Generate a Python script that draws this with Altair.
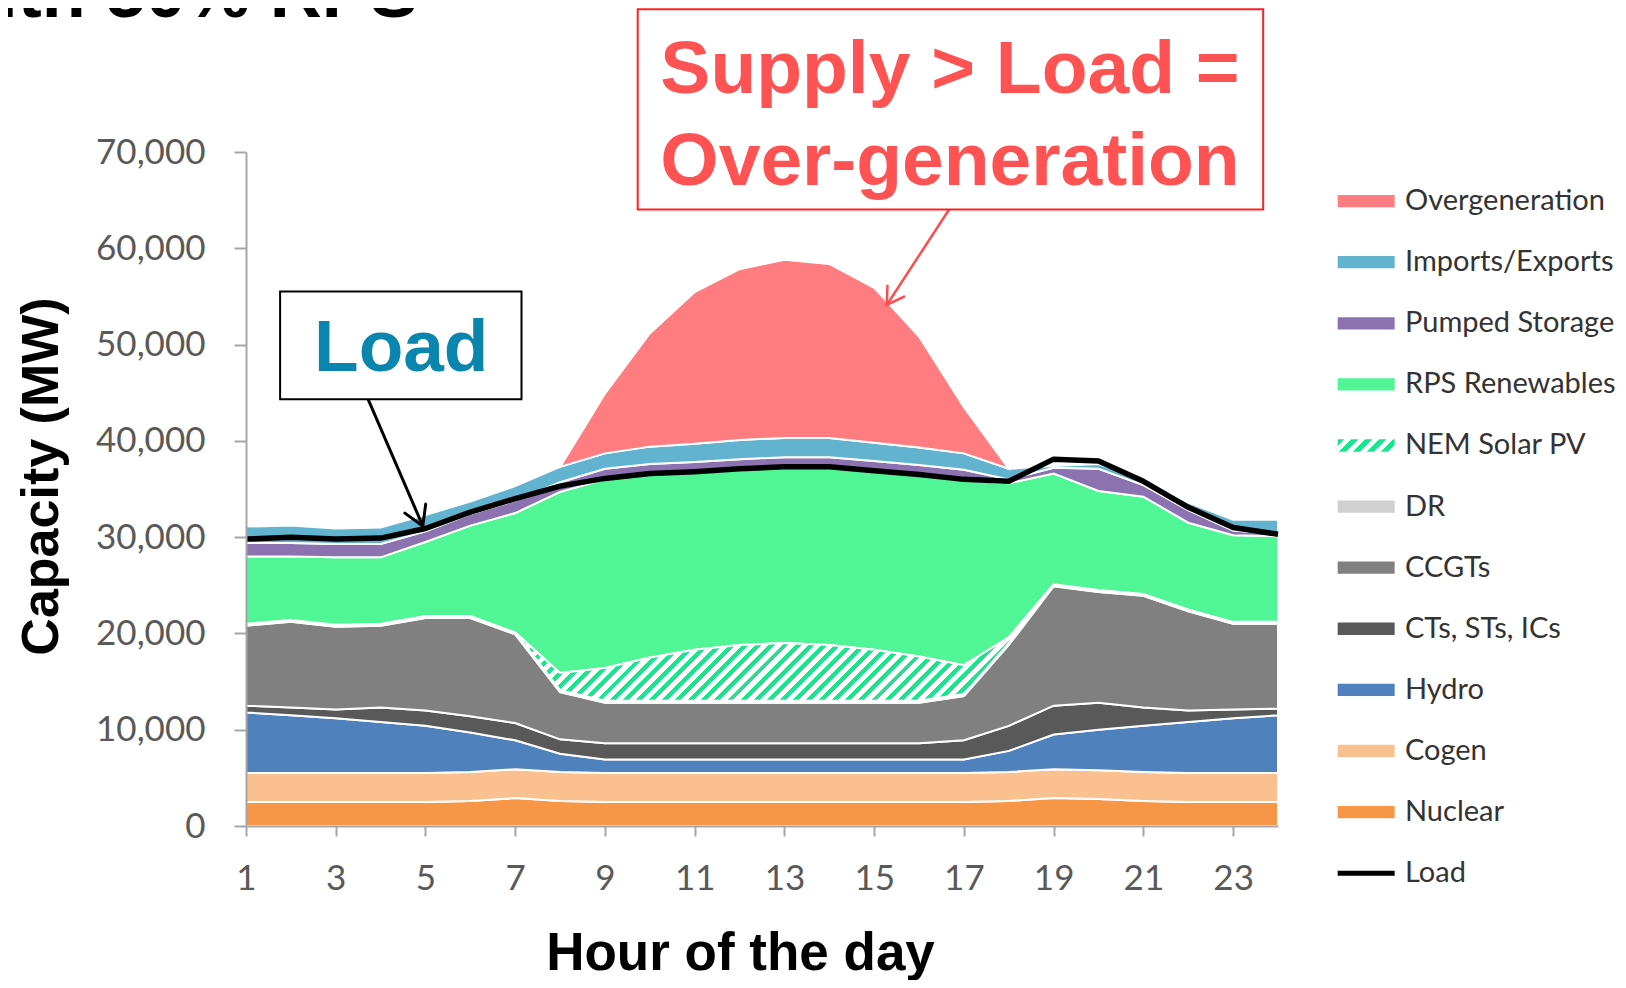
import math
import altair as alt
import pandas as pd

# ---------------- data (MW, each layer's own contribution) ----------------
hours = list(range(1, 25))
nuclear = [2500, 2500, 2500, 2500, 2500, 2600, 2900, 2600, 2500, 2500, 2500, 2500,
           2500, 2500, 2500, 2500, 2500, 2600, 2900, 2800, 2600, 2500, 2500, 2500]
cogen = [3000] * 24
hydro = [6300, 6000, 5700, 5300, 4900, 4100, 3000, 1900, 1400, 1400, 1400, 1400,
         1400, 1400, 1400, 1400, 1400, 2200, 3600, 4200, 4800, 5300, 5700, 6000]
cts = [700, 800, 900, 1500, 1600, 1700, 1800, 1500, 1700, 1700, 1700, 1700,
       1700, 1700, 1700, 1700, 2000, 2600, 3000, 2800, 1900, 1200, 900, 700]
ccgts = [8300, 8900, 8600, 8500, 9600, 10200, 9200, 4900, 4200, 4200, 4200, 4200,
         4200, 4200, 4200, 4200, 4600, 8400, 12400, 11500, 11600, 10300, 8900, 8800]
dr = [200] * 24
nem = [0, 0, 0, 0, 0, 0, 0, 1800, 3400, 4500, 5300, 5800,
       6000, 5800, 5300, 4600, 3000, 600, 0, 0, 0, 0, 0, 0]
rps = [7000, 6600, 7000, 6900, 7700, 9400, 12400, 18800, 19600, 19000, 18400, 18200,
       18200, 18400, 18500, 18800, 19200, 16000, 11500, 10300, 10100, 9000, 9000, 8900]
pumped = [1400, 1400, 1400, 1400, 1100, 1200, 1300, 1000, 1100, 1100, 1100, 1100,
          1100, 1100, 1100, 1100, 1100, 400, 600, 2300, 1200, 1300, 500, 200]
imports = [1700, 1800, 1600, 1700, 1700, 1300, 1500, 1600, 1600, 1800, 1900, 2000,
           2000, 2000, 1900, 1800, 1700, 1100, 200, 500, 600, 800, 1100, 1500]
overgen = [0, 0, 0, 0, 0, 0, 0, 0, 6200, 11750, 15760, 17730,
           18500, 18070, 16090, 11530, 4800, 0, 0, 0, 0, 0, 0, 0]
load = [29800, 30000, 29800, 29900, 30900, 32600, 34000, 35300, 36100, 36600, 36800, 37100,
        37300, 37300, 36900, 36500, 36000, 35800, 38100, 37900, 35800, 33100, 31000, 30300]

stack_names = ["Nuclear", "Cogen", "Hydro", "CTs, STs, ICs", "CCGTs", "DR", "NEM Solar PV",
               "RPS Renewables", "Pumped Storage", "Imports/Exports", "Overgeneration"]
stack_values = [nuclear, cogen, hydro, cts, ccgts, dr, nem, rps, pumped, imports, overgen]
stack_spans = {"NEM Solar PV": (7, 19), "Overgeneration": (8, 18)}

legend_names = ["Overgeneration", "Imports/Exports", "Pumped Storage", "RPS Renewables",
                "NEM Solar PV", "DR", "CCGTs", "CTs, STs, ICs", "Hydro", "Cogen", "Nuclear", "Load"]

colors = {"Nuclear": "#f79646", "Cogen": "#fac090", "Hydro": "#4f81bd",
          "CTs, STs, ICs": "#595959", "CCGTs": "#808080", "DR": "#d0d0d0",
          "NEM Solar PV": "#ffffff", "RPS Renewables": "#50f595",
          "Pumped Storage": "#8c72b0", "Imports/Exports": "#62b3cf",
          "Overgeneration": "#ff7c80"}
HATCH_GREEN = "#19e68c"

# ---------------- layout ----------------
W, H = 1032, 674
Y_MAX = 70000
PXH = W / 23.0          # px per hour
PXV = H / Y_MAX         # px per MW
LABEL_FONT = "Lato, Liberation Sans, sans-serif"
BOLD = "Liberation Sans, Arial, sans-serif"

# ---------------- build stacked table ----------------
rows = []
base = [0] * 24
for name, vals in zip(stack_names, stack_values):
    lo, hi = stack_spans.get(name, (1, 24))
    for i, h in enumerate(hours):
        if lo <= h <= hi:
            rows.append({"series": name, "hour": h, "y0": base[i], "y1": base[i] + vals[i]})
        base[i] += vals[i]
stack_df = pd.DataFrame(rows)
solid_df = stack_df[stack_df.series != "NEM Solar PV"]
nem_df = stack_df[stack_df.series == "NEM Solar PV"]
load_df = pd.DataFrame({"hour": hours, "load": load})

x_scale = alt.Scale(domain=[1, 24], nice=False, zero=False)
y_scale = alt.Scale(domain=[0, Y_MAX], nice=False)
x_axis = alt.Axis(values=list(range(1, 24, 2)), title="Hour of the day", format="d",
                  titleFont=BOLD, titleFontSize=53, titleFontWeight="bold", titleColor="#000000",
                  titleX=494, titleY=143, titleBaseline="alphabetic", titleAlign="center",
                  labelFont=LABEL_FONT, labelFontSize=35, labelColor="#595959", labelPadding=25,
                  labelFlush=False, labelOverlap=False,
                  tickSize=10, tickColor="#a6a6a6", tickWidth=2,
                  domainColor="#a6a6a6", domainWidth=2, grid=False, zindex=1)
y_axis = alt.Axis(values=list(range(0, 70001, 10000)), format=",.0f", title="Capacity (MW)",
                  titleFont=BOLD, titleFontSize=52, titleFontWeight="bold", titleColor="#000000",
                  titleX=-189, titleY=324, titleAngle=270, titleBaseline="alphabetic",
                  titleAlign="center",
                  labelFont=LABEL_FONT, labelFontSize=35, labelColor="#595959", labelPadding=29,
                  labelFlush=False, labelOverlap=False,
                  tickSize=12, tickColor="#a6a6a6", tickWidth=2,
                  domainColor="#a6a6a6", domainWidth=2, grid=False, zindex=1)


def X(f):
    return alt.X(f, type="quantitative", scale=x_scale, axis=x_axis)


def Y(f):
    return alt.Y(f, type="quantitative", scale=y_scale, axis=y_axis)


color_scale = alt.Scale(domain=list(colors.keys()), range=list(colors.values()))


def stripes(w, h, period=13.0, frac=0.45, c1=HATCH_GREEN, c2="#ffffff"):
    n = max(1, int(round((w + h) / period)))
    stops = []
    for i in range(n):
        a, b, c = i / n, (i + frac) / n, (i + 1) / n
        stops += [alt.GradientStop(color=c1, offset=a), alt.GradientStop(color=c1, offset=b),
                  alt.GradientStop(color=c2, offset=b), alt.GradientStop(color=c2, offset=c)]
    k = (w + h) / (w * w + h * h)
    return alt.LinearGradient(gradient="linear", stops=stops, x1=0, y1=0, x2=k * w, y2=k * h)


# ---------------- stacked areas ----------------
areas = alt.Chart(solid_df).mark_area(stroke="white", strokeWidth=2, interpolate="linear").encode(
    x=X("hour"), y=Y("y1"), y2="y0",
    color=alt.Color("series:N", scale=color_scale, legend=None),
)

nem_w = (nem_df.hour.max() - nem_df.hour.min()) * PXH
nem_h = (max(nem_df.y1.max(), nem_df.y0.max()) - min(nem_df.y0.min(), nem_df.y1.min())) * PXV
nem_area = alt.Chart(nem_df).mark_area(
    fill=stripes(nem_w, nem_h), stroke="white", strokeWidth=2, interpolate="linear"
).encode(x=X("hour"), y=Y("y1"), y2="y0")

load_line = alt.Chart(load_df).mark_line(color="black", strokeWidth=5.5, strokeJoin="round").encode(
    x=X("hour"), y=Y("load"))

# ---------------- custom legend ----------------
LEG_TOP, LEG_STEP, SW_HALF = 64900, 6345, 640
SW_X0, SW_X1, LBL_X = 25.33, 26.60, 26.83
leg_df = pd.DataFrame({"series": legend_names,
                       "ym": [LEG_TOP - i * LEG_STEP for i in range(len(legend_names))]})
leg_df["ya"] = leg_df.ym - SW_HALF
leg_df["yb"] = leg_df.ym + SW_HALF
leg_df["xa"] = SW_X0
leg_df["xb"] = SW_X1
leg_df["xl"] = LBL_X

solid_leg = leg_df[~leg_df.series.isin(["NEM Solar PV", "Load"])]
legend_rects = alt.Chart(solid_leg).mark_rect().encode(
    x=X("xa"), x2="xb", y=Y("ya"), y2="yb",
    color=alt.Color("series:N", scale=color_scale, legend=None))
nem_leg = leg_df[leg_df.series == "NEM Solar PV"]
legend_nem = alt.Chart(nem_leg).mark_rect(
    fill=stripes((SW_X1 - SW_X0) * PXH, 2 * SW_HALF * PXV, period=13.0, frac=0.5)
).encode(x=X("xa"), x2="xb", y=Y("ya"), y2="yb")
load_leg = leg_df[leg_df.series == "Load"]
legend_load = alt.Chart(load_leg).mark_rule(color="black", strokeWidth=5).encode(
    x=X("xa"), x2="xb", y=Y("ym"))
legend_text = alt.Chart(leg_df).mark_text(
    align="left", baseline="middle", font=LABEL_FONT, fontSize=29, color="#333333"
).encode(x=X("xl"), y=Y("ym"), text="series:N")

# ---------------- annotations ----------------
ARROW = "M-1,-0.6L0,0L-1,0.6"


def arrow_angle(x0, y0, x1, y1):
    dx = (x1 - x0) * PXH
    dy = -(y1 - y0) * PXV
    return math.degrees(math.atan2(dy, dx)) % 360


load_box_df = pd.DataFrame({"xa": [1.76], "xb": [7.14], "ya": [44330], "yb": [55520]})
load_box = alt.Chart(load_box_df).mark_rect(fill="white", stroke="black", strokeWidth=2).encode(
    x=X("xa"), x2="xb", y=Y("ya"), y2="yb")
load_lbl_df = pd.DataFrame({"x": [4.46], "y": [47220], "t": ["Load"]})
load_text = alt.Chart(load_lbl_df).mark_text(
    font=BOLD, fontWeight="bold", fontSize=73, color="#0a85ad", align="center", baseline="alphabetic"
).encode(x=X("x"), y=Y("y"), text="t:N")
la = {"x0": 3.72, "y0": 44330, "x1": 4.94, "y1": 31160}
load_arrow_df = pd.DataFrame({k: [v] for k, v in la.items()})
load_arrow = alt.Chart(load_arrow_df).mark_rule(color="black", strokeWidth=3).encode(
    x=X("x0"), x2="x1", y=Y("y0"), y2="y1")
load_head = alt.Chart(load_arrow_df).mark_point(
    shape=ARROW, filled=False, size=1430, strokeWidth=3, color="black", opacity=1, strokeCap="round"
).encode(x=X("x1"), y=Y("y1"),
         angle=alt.value(arrow_angle(la["x0"], la["y0"], la["x1"], la["y1"])))

red_box_df = pd.DataFrame({"xa": [9.73], "xb": [23.67], "ya": [64030], "yb": [84820]})
red_box = alt.Chart(red_box_df).mark_rect(fill="white", stroke="#ff2020", strokeWidth=2).encode(
    x=X("xa"), x2="xb", y=Y("ya"), y2="yb")
red_lbl_df = pd.DataFrame({"x": [16.69, 16.69], "y": [76130, 66610],
                           "t": ["Supply > Load =", "Over-generation"]})
red_text = alt.Chart(red_lbl_df).mark_text(
    font=BOLD, fontWeight="bold", fontSize=75, color="#ff5353", align="center", baseline="alphabetic"
).encode(x=X("x"), y=Y("y"), text="t:N")
ra = {"x0": 16.67, "y0": 64030, "x1": 15.28, "y1": 54110}
red_arrow_df = pd.DataFrame({k: [v] for k, v in ra.items()})
red_arrow = alt.Chart(red_arrow_df).mark_rule(color="#ff4d4d", strokeWidth=2.5).encode(
    x=X("x0"), x2="x1", y=Y("y0"), y2="y1")
red_head = alt.Chart(red_arrow_df).mark_point(
    shape=ARROW, filled=False, size=1100, strokeWidth=2.5, color="#ff4d4d", opacity=1,
    strokeCap="round"
).encode(x=X("x1"), y=Y("y1"),
         angle=alt.value(arrow_angle(ra["x0"], ra["y0"], ra["x1"], ra["y1"])))

title_df = pd.DataFrame({"x": [4.83], "y": [84020], "t": ["with 50% RPS"]})
title_text = alt.Chart(title_df).mark_text(
    font=BOLD, fontWeight="bold", fontSize=72, color="#000000", align="right", baseline="alphabetic"
).encode(x=X("x"), y=Y("y"), text="t:N")

chart = alt.layer(
    areas, nem_area, load_line,
    legend_rects, legend_nem, legend_load, legend_text,
    load_arrow, load_head, load_box, load_text,
    red_arrow, red_head, red_box, red_text,
    title_text,
).properties(
    width=W, height=H,
    autosize=alt.AutoSizeParams(type="none"),
    padding={"left": 238, "top": 144, "right": 338, "bottom": 154},
).configure_view(stroke=None)

chart.save("out.html", embed_options={"renderer": "svg", "actions": False})
